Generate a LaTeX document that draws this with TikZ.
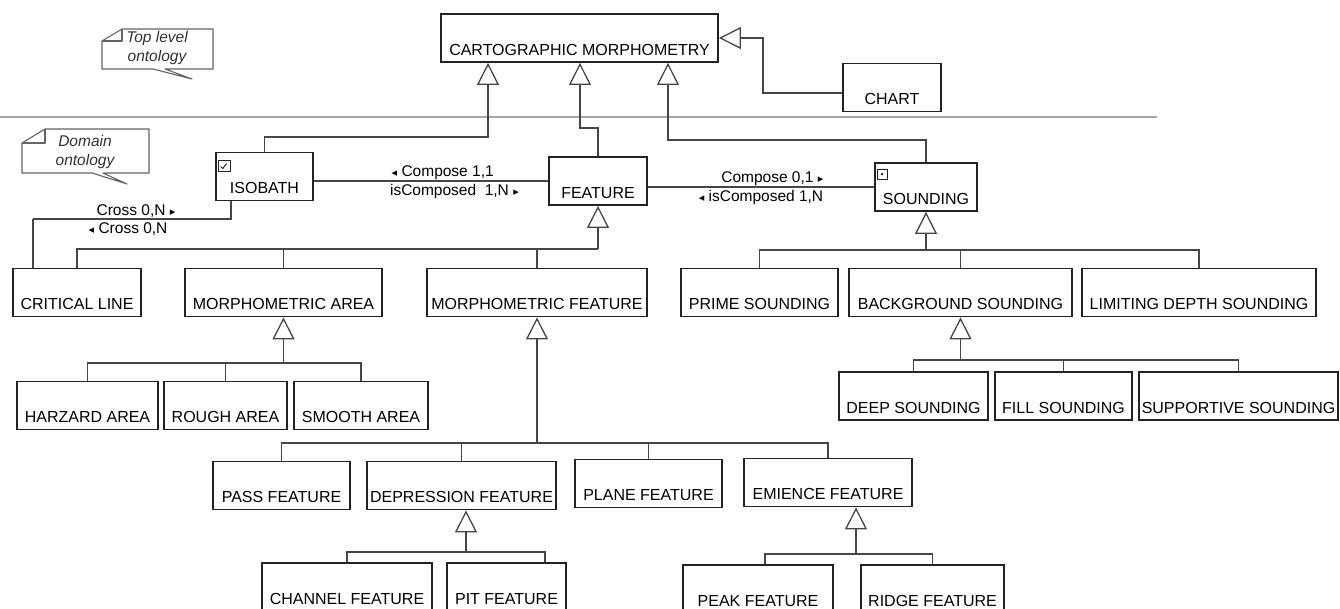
\documentclass[tikz,border=0pt]{standalone}
\usepackage{fontspec}
\setmainfont{Liberation Sans}
\newfontfamily\symbolfont{DejaVu Sans}
\usepackage{tikz}
\usetikzlibrary{arrows.meta,positioning,calc}
\definecolor{LineGray}{RGB}{70,70,70}
\definecolor{BoxGray}{RGB}{35,35,35}
\definecolor{RuleGray}{RGB}{165,165,165}
\definecolor{NoteGray}{RGB}{100,100,100}
\newcommand{\toleft}{{\symbolfont\fontsize{11}{11}\selectfont ◂}}
\newcommand{\toright}{{\symbolfont\fontsize{11}{11}\selectfont ▸}}

\begin{document}
\begin{tikzpicture}[x=1pt, y=-1pt, LineGray, text=black, line width=1.3pt,
	   every node/.style={font=\fontsize{16}{19}\selectfont},
	   classbox/.style={rectangle, draw=BoxGray, line width=1.8pt, minimum width=#1,
	                    inner xsep=0pt, inner ysep=0pt, text height=41pt, text depth=7pt},
	   gen/.style={-{Triangle[open,length=22pt,width=22pt]}},
	   assoc/.style={font=\fontsize{15.5}{18}\selectfont, inner sep=1pt},
	   notebox/.style={draw=NoteGray, line width=1.1pt, line join=round},
	   notetext/.style={align=center, text=black!80, font=\fontsize{15.5}{19}\selectfont\itshape}]
	\useasboundingbox (0,0) rectangle (1340,608);

	%% Notes and level separator
	\draw[RuleGray, line width=1.6pt] (0,117) -- (1157,117);
	\draw[notebox] (122,29) -- (213,29) -- (213,69) -- (165,69) -- (192,79) -- (153,69)
	               -- (102,69) -- (102,41) -- cycle;
	\draw[notebox] (102,41) -- (122,41) -- (122,29);
	\node[notetext] (toplevel) at (157,48) {Top level\\ontology};
	\draw[notebox] (45,129) -- (149,129) -- (149,173) -- (103,173) -- (127,184) -- (92,173)
	               -- (22,173) -- (22,143) -- cycle;
	\draw[notebox] (22,143) -- (45,143) -- (45,129);
	\node[notetext] (domain) at (85,152) {Domain\\ontology};

	%% Top level classes
	\node [classbox=277pt] (carto) at (579.5,38) {CARTOGRAPHIC MORPHOMETRY};
	\node [classbox=98pt] (chart) at (892,87.5) {CHART};

	%% Domain classes
	\node [classbox=97pt] (isobath) at (264.5,176.5) {ISOBATH};
	\node [classbox=98pt] (feature) at (598,181) {FEATURE};
	\node [classbox=102pt] (sounding) at (926,187) {SOUNDING};
	\draw[BoxGray, line width=1pt] ([shift={(3,9)}]isobath.north west) rectangle ++(12,11);
	\draw[BoxGray, line width=1pt] ([shift={(5.5,15)}]isobath.north west) -- ++(2,2) -- ++(4,-5);
	\draw[BoxGray, line width=1pt] ([shift={(3,7)}]sounding.north west) rectangle ++(10,10);
	\fill[BoxGray] ([shift={(8,12)}]sounding.north west) circle (1.3pt);

	\node [classbox=128pt] (critical) at (77,292.5) {CRITICAL LINE};
	\node [classbox=197pt] (marea) at (283.5,292.5) {MORPHOMETRIC AREA};
	\node [classbox=220pt] (mfeature) at (537,292.5) {MORPHOMETRIC FEATURE};
	\node [classbox=157pt] (prime) at (759.5,292.5) {PRIME SOUNDING};
	\node [classbox=223pt] (background) at (960.5,292.5) {BACKGROUND SOUNDING};
	\node [classbox=234pt] (limiting) at (1199,292.5) {LIMITING DEPTH SOUNDING};

	\node [classbox=141pt] (harzard) at (87.5,405.5) {HARZARD AREA};
	\node [classbox=123pt] (rough) at (225.5,405.5) {ROUGH AREA};
	\node [classbox=134pt] (smooth) at (361,405.5) {SMOOTH AREA};

	\node [classbox=149pt] (deep) at (913.5,396) {DEEP SOUNDING};
	\node [classbox=137pt] (fill) at (1063.5,396) {FILL SOUNDING};
	\node [classbox=199pt] (supportive) at (1238.5,396) {SUPPORTIVE SOUNDING};

	\node [classbox=137pt] (pass) at (281.5,485.5) {PASS FEATURE};
	\node [classbox=189pt] (depression) at (461.5,485.5) {DEPRESSION FEATURE};
	\node [classbox=147pt] (plane) at (648.5,483.5) {PLANE FEATURE};
	\node [classbox=168pt] (emience) at (828,482.5) {EMIENCE FEATURE};

	\node [classbox=170pt] (channel) at (347,587) {CHANNEL FEATURE};
	\node [classbox=119pt] (pit) at (506.5,587) {PIT FEATURE};
	\node [classbox=150pt] (peak) at (758,589) {PEAK FEATURE};
	\node [classbox=143pt] (ridge) at (932.5,589) {RIDGE FEATURE};

	%% Generalisation to the top level
	\coordinate (isobend) at (488,137);
	\coordinate (featbend) at (580,128);
	\coordinate (soundbend) at (668,140);
	\coordinate (chartbend) at (763,93);
	\draw[gen] (isobath.north) |- (isobend) -- (carto.south -| isobend);
	\draw[gen] (feature.north) |- (featbend) -- (carto.south -| featbend);
	\draw[gen] (sounding.north) |- (soundbend) -- (carto.south -| soundbend);
	\draw[gen] (chart.west |- chartbend) -- (chartbend) |- (carto.east);

	%% Generalisation trees
	\coordinate (featbus) at (598,249);
	\draw[gen] (featbus) -- (feature.south);
	\foreach \child in {critical, marea, mfeature}
		\draw (\child.north) |- (featbus);
	\coordinate (soundbus) at (926,250);
	\draw[gen] (soundbus) -- (sounding.south);
	\foreach \child in {prime, background, limiting}
		\draw (\child.north) |- (soundbus);
	\coordinate (areabus) at (283.5,363);
	\draw[gen] (areabus) -- (marea.south);
	\foreach \child in {harzard, rough, smooth}
		\draw (\child.north) |- (areabus);
	\coordinate (backbus) at (960.5,360);
	\draw[gen] (backbus) -- (background.south);
	\foreach \child in {deep, fill, supportive}
		\draw (\child.north) |- (backbus);
	\coordinate (mfeatbus) at (537,443);
	\draw[gen] (mfeatbus) -- (mfeature.south);
	\foreach \child in {pass, depression, plane, emience}
		\draw (\child.north) |- (mfeatbus);
	\coordinate (deprbus) at (466,552);
	\draw[gen] (deprbus) -- (depression.south -| deprbus);
	\draw (channel.north) |- (deprbus);
	\draw ([xshift=38.5pt]pit.north) |- (deprbus);
	\coordinate (emibus) at (856,554);
	\draw[gen] (emibus) -- (emience.south -| emibus);
	\draw ([xshift=7pt]peak.north) |- (emibus);
	\draw (ridge.north) |- (emibus);

	%% Associations
	\draw (isobath.east |- feature.west) -- (feature.west)
	      node[assoc, above, pos=0.55] {\toleft\ Compose 1,1}
	      node[assoc, below=2pt, pos=0.6] {isComposed\ \ 1,N\ \toright};
	\draw (feature.east |- sounding.west) -- (sounding.west)
	      node[assoc, above, pos=0.55] {Compose 0,1\ \toright}
	      node[assoc, below=2pt, pos=0.5] {\toleft\ isComposed 1,N};
	\coordinate (crossbend) at (33,219);
	\draw ([xshift=16pt]isobath.south west) |- (crossbend)
	      node[assoc, above, pos=0.74] {Cross 0,N\ \toright}
	      node[assoc, below=2pt, pos=0.76] {\toleft\ Cross 0,N};
	\draw (crossbend) -- (critical.north -| crossbend);
\end{tikzpicture}
\end{document}
